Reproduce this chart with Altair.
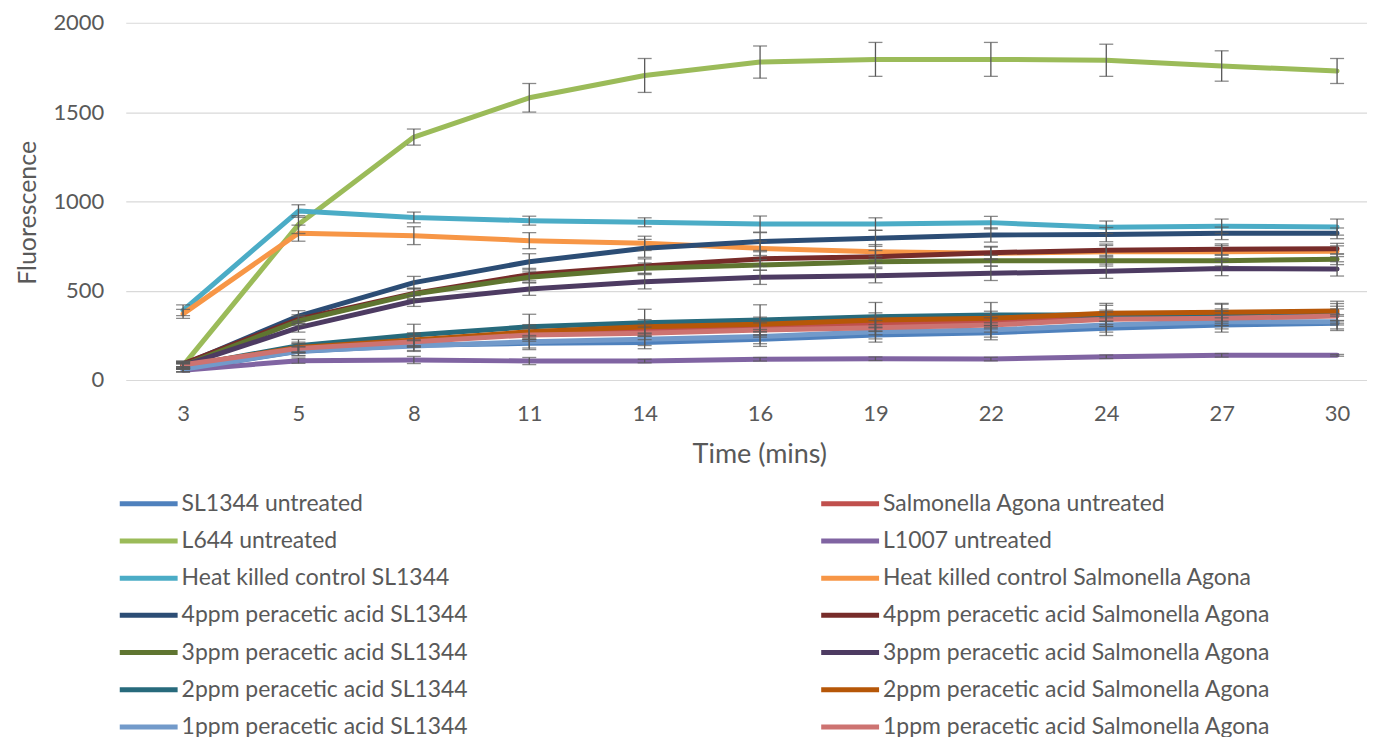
import altair as alt
import pandas as pd

times = ["3", "5", "8", "11", "14", "16", "19", "22", "24", "27", "30"]

series_names = [
    "SL1344 untreated",
    "Salmonella Agona untreated",
    "L644 untreated",
    "L1007 untreated",
    "Heat killed control SL1344",
    "Heat killed control Salmonella Agona",
    "4ppm peracetic acid SL1344",
    "4ppm peracetic acid Salmonella Agona",
    "3ppm peracetic acid SL1344",
    "3ppm peracetic acid Salmonella Agona",
    "2ppm peracetic acid SL1344",
    "2ppm peracetic acid Salmonella Agona",
    "1ppm peracetic acid SL1344",
    "1ppm peracetic acid Salmonella Agona",
]

series_colors = [
    "#4F81BD", "#C0504D", "#9BBB59", "#8064A2", "#4BACC6", "#F79646",
    "#2C4D75", "#772C2A", "#5F7530", "#4D3B62", "#276A7C", "#B65708",
    "#729ACA", "#CD7371",
]

sl1344_untreated = [60, 160, 195, 205, 210, 228, 252, 265, 289, 308, 317]
agona_untreated = [75, 180, 220, 262, 280, 293, 312, 326, 351, 358, 373]
l644_untreated = [80, 870, 1360, 1580, 1705, 1780, 1795, 1795, 1790, 1758, 1730]
l1007_untreated = [55, 108, 112, 106, 106, 116, 119, 117, 130, 138, 138]
hk_sl1344 = [390, 946, 910, 892, 883, 873, 873, 881, 855, 861, 856]
hk_agona = [370, 822, 808, 780, 765, 737, 718, 709, 718, 718, 721]
ppm4_sl1344 = [85, 358, 545, 662, 737, 775, 793, 812, 814, 821, 821]
ppm4_agona = [90, 340, 485, 590, 638, 678, 690, 713, 726, 732, 735]
ppm3_sl1344 = [80, 330, 481, 575, 625, 644, 662, 668, 668, 668, 676]
ppm3_agona = [80, 293, 442, 509, 550, 575, 584, 597, 609, 624, 622]
ppm2_sl1344 = [75, 192, 252, 298, 321, 336, 354, 364, 364, 364, 368]
ppm2_agona = [80, 182, 224, 270, 298, 312, 336, 345, 373, 379, 386]
ppm1_sl1344 = [60, 162, 190, 214, 228, 243, 270, 280, 308, 326, 326]
ppm1_agona = [85, 177, 214, 252, 261, 280, 293, 308, 340, 345, 358]

err_sl1344_untreated = [15, 25, 30, 35, 35, 40, 40, 40, 40, 40, 40]
err_agona_untreated = [15, 25, 30, 35, 35, 40, 40, 40, 40, 40, 40]
err_l644_untreated = [20, 50, 45, 80, 95, 90, 95, 95, 90, 85, 70]
err_l1007_untreated = [10, 15, 20, 20, 10, 10, 10, 10, 10, 10, 5]
err_hk_sl1344 = [30, 35, 30, 25, 25, 45, 35, 35, 35, 40, 45]
err_hk_agona = [25, 45, 50, 45, 40, 40, 40, 35, 35, 35, 30]
err_ppm4_sl1344 = [20, 30, 35, 45, 50, 50, 45, 40, 40, 35, 30]
err_ppm4_agona = [15, 25, 30, 35, 40, 40, 35, 35, 35, 30, 30]
err_ppm3_sl1344 = [15, 25, 30, 30, 30, 30, 30, 30, 30, 30, 30]
err_ppm3_agona = [15, 25, 30, 35, 40, 40, 40, 40, 40, 40, 40]
err_ppm2_sl1344 = [15, 35, 60, 70, 75, 85, 80, 70, 65, 60, 60]
err_ppm2_agona = [15, 30, 40, 40, 40, 40, 40, 40, 45, 50, 55]
err_ppm1_sl1344 = [15, 25, 30, 35, 35, 40, 40, 40, 40, 40, 40]
err_ppm1_agona = [15, 25, 30, 35, 35, 40, 40, 40, 40, 40, 40]

series_values = [
    sl1344_untreated, agona_untreated, l644_untreated, l1007_untreated,
    hk_sl1344, hk_agona, ppm4_sl1344, ppm4_agona, ppm3_sl1344, ppm3_agona,
    ppm2_sl1344, ppm2_agona, ppm1_sl1344, ppm1_agona,
]
series_errors = [
    err_sl1344_untreated, err_agona_untreated, err_l644_untreated, err_l1007_untreated,
    err_hk_sl1344, err_hk_agona, err_ppm4_sl1344, err_ppm4_agona, err_ppm3_sl1344,
    err_ppm3_agona, err_ppm2_sl1344, err_ppm2_agona, err_ppm1_sl1344, err_ppm1_agona,
]

rows = []
for name, vals, errs in zip(series_names, series_values, series_errors):
    for t, v, e in zip(times, vals, errs):
        rows.append({"time": t, "series": name, "value": v, "lo": v - e, "hi": v + e})
df = pd.DataFrame(rows)

# legend is filled column by column: left column = even entries, right = odd entries
legend_order = series_names[0::2] + series_names[1::2]
legend_colors = series_colors[0::2] + series_colors[1::2]

FONT = "Lato"
GREY = "#595959"

x_enc = alt.X(
    "time:O",
    sort=times,
    scale=alt.Scale(type="point", padding=0.378, align=0.657),
    axis=alt.Axis(
        title="Time (mins)", labelAngle=0, ticks=False, tickSize=0, domain=False, grid=False,
        labelFont=FONT, labelFontSize=22, labelColor=GREY, labelPadding=24,
        titleFont=FONT, titleFontSize=27, titleFontWeight="normal", titleColor=GREY,
        titleX=635, titleY=83, titleBaseline="alphabetic",
    ),
)
y_scale = alt.Scale(domain=[0, 2000])

base = alt.Chart(df)

lines = base.mark_line(strokeWidth=5, strokeJoin="round", strokeCap="round").encode(
    x=x_enc,
    y=alt.Y(
        "value:Q",
        scale=y_scale,
        axis=alt.Axis(
            values=[0, 500, 1000, 1500, 2000], format="d", grid=True, gridColor="#d9d9d9",
            gridWidth=1.2, domain=False, ticks=False, tickSize=0,
            labelFont=FONT, labelFontSize=22, labelColor=GREY, labelPadding=22,
            title="Fluorescence", titleFont=FONT, titleFontSize=25, titleFontWeight="normal",
            titleColor=GREY, titleX=-90, titleY=190, titleBaseline="alphabetic",
        ),
    ),
    color=alt.Color(
        "series:N",
        scale=alt.Scale(domain=legend_order, range=legend_colors),
        legend=alt.Legend(
            title=None, orient="none", legendX=6, legendY=465, columns=2,
            columnPadding=344, rowPadding=8.3, symbolType="M-2,0H2", symbolSize=841,
            symbolStrokeWidth=5, labelFont=FONT, labelFontSize=23, labelColor=GREY,
            labelOffset=16, labelLimit=800, padding=0,
        ),
    ),
)

err_rules = base.mark_rule(color=GREY, strokeWidth=1.3).encode(
    x=alt.X("time:O", sort=times), y=alt.Y("lo:Q", scale=y_scale), y2="hi:Q"
)
cap_lo = base.mark_tick(color=GREY, thickness=1.3, size=14).encode(
    x=alt.X("time:O", sort=times), y=alt.Y("lo:Q", scale=y_scale)
)
cap_hi = base.mark_tick(color=GREY, thickness=1.3, size=14).encode(
    x=alt.X("time:O", sort=times), y=alt.Y("hi:Q", scale=y_scale)
)

chart = (
    alt.layer(lines, err_rules, cap_lo, cap_hi)
    .properties(
        width=1244, height=358,
        padding={"left": 118, "top": 14, "right": 0, "bottom": 357},
        autosize=alt.AutoSizeParams(type="none"),
        background="white",
    )
    .configure_view(stroke=None)
)

chart.save("out.html", embed_options={"renderer": "svg", "actions": False})
